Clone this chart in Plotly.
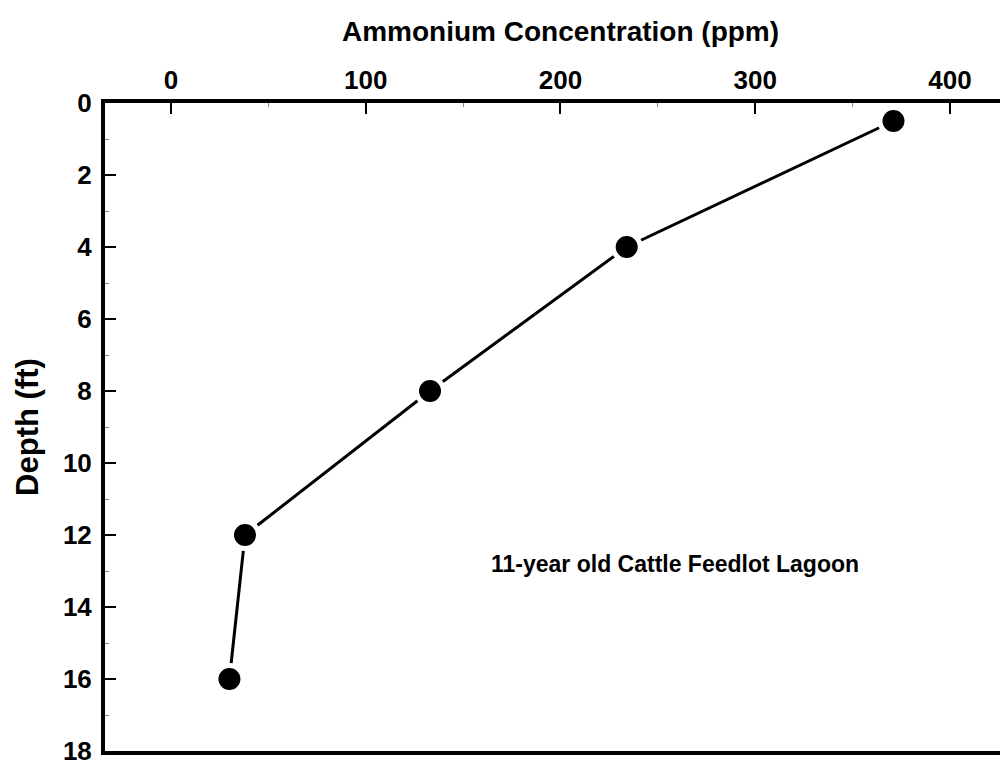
import plotly.graph_objects as go

concentration = [371, 234, 133, 38, 30]
depth = [0.5, 4, 8, 12, 16]
x_ticks = [0, 100, 200, 300, 400]
y_ticks = [0, 2, 4, 6, 8, 10, 12, 14, 16, 18]
label = "11-year old Cattle Feedlot Lagoon"
x_title = "Ammonium Concentration (ppm)"
y_title = "Depth (ft)"

FONT = "Liberation Sans, Arial, sans-serif"

fig = go.Figure()
fig.add_trace(go.Scatter(
    x=concentration, y=depth, mode="lines+markers",
    line=dict(color="black", width=3),
    marker=dict(color="black", size=27, line=dict(color="white", width=5)),
    showlegend=False, cliponaxis=False,
))

fig.add_annotation(
    x=259, y=12.8, xref="x", yref="y",
    text="<b>" + label + "</b>", showarrow=False,
    font=dict(family=FONT, size=23, color="black"),
    xanchor="center", yanchor="middle",
)
fig.add_annotation(
    x=0.504, y=1.11, xref="paper", yref="paper",
    text="<b>" + x_title + "</b>", showarrow=False,
    font=dict(family=FONT, size=28, color="black"),
    xanchor="center", yanchor="middle",
)
fig.add_annotation(
    x=-0.0865, y=0.5, xref="paper", yref="paper",
    text="<b>" + y_title + "</b>", showarrow=False, textangle=-90,
    font=dict(family=FONT, size=31, color="black"),
    xanchor="center", yanchor="middle", borderpad=0,
)

fig.update_layout(
    width=1000, height=764,
    margin=dict(l=97, r=0, t=95, b=21),
    paper_bgcolor="white", plot_bgcolor="white",
    font=dict(family=FONT, color="black"),
    xaxis=dict(
        side="top", range=[-33.9, 429.8],
        tickvals=x_ticks, ticktext=["<b>%d</b>" % v for v in x_ticks],
        tickfont=dict(size=26, family=FONT),
        ticks="inside", ticklen=11, tickwidth=2, tickcolor="black",
        minor=dict(dtick=50, ticks="inside", ticklen=4, tickwidth=1, tickcolor="#888"),
        showline=True, linewidth=3.5, linecolor="black", mirror=True,
        showgrid=False, zeroline=False,
        ticklabelstandoff=0,
    ),
    yaxis=dict(
        range=[18, 0],
        tickvals=y_ticks, ticktext=["<b>%d</b>" % v for v in y_ticks],
        tickfont=dict(size=26, family=FONT),
        ticks="inside", ticklen=11, tickwidth=2, tickcolor="black",
        minor=dict(dtick=1, ticks="inside", ticklen=4, tickwidth=1, tickcolor="#888"),
        showline=True, linewidth=4, linecolor="black", mirror=False,
        showgrid=False, zeroline=False,
        ticklabelstandoff=4,
    ),
)

fig.write_html("out.html")
